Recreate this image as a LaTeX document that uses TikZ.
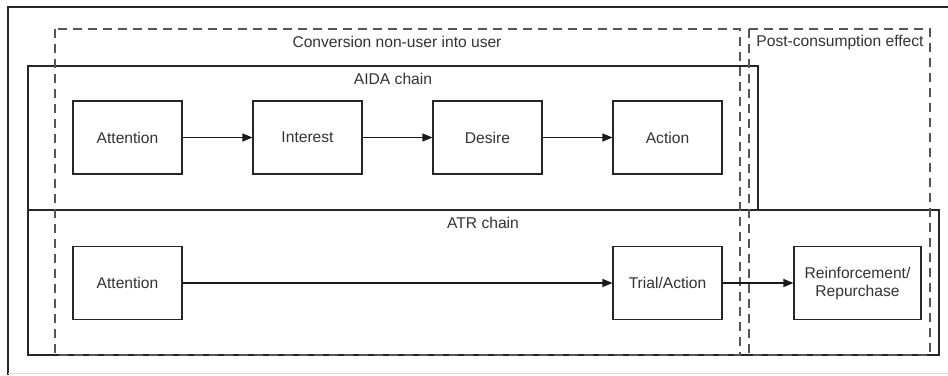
\documentclass[tikz,border=0pt]{standalone}
\usepackage{fontspec}
\setmainfont{Liberation Sans}
\usetikzlibrary{arrows.meta}
\definecolor{txt}{HTML}{333333}
\definecolor{dsh}{HTML}{555555}
\begin{document}
\begin{tikzpicture}[x=1pt,y=-1pt,
  box/.style={draw=black!85,line width=1.1pt,fill=white,minimum width=109pt,minimum height=73pt,inner sep=0pt,align=center,
    font=\fontsize{15.6}{18}\selectfont,text=txt},
  lbl/.style={font=\fontsize{15.6}{18}\selectfont,text=txt,inner sep=0pt},
  cont/.style={draw=black!85,line width=1.1pt},
  dcont/.style={draw=dsh,line width=1.5pt,dash pattern=on 9pt off 6pt},
  arr/.style={draw=black!90,line width=1.1pt,-{Triangle[length=10pt,width=8pt]}}]
\useasboundingbox (0,0) rectangle (948,375);
\fill[white] (0,0) rectangle (948,375);
% outer frame
\draw[black!85,line width=1.1pt] (8,375) -- (8,7) -- (948,7);
\draw[black!15,line width=1pt] (8,373) -- (948,373);
% chains
\draw[cont] (28,66) rectangle (758,210);
\draw[cont] (28,210) rectangle (939,355);
% dashed phases
\draw[dcont] (55,29) rectangle (740,355);
\draw[dcont] (749,29) rectangle (930,355);
% labels
\node[lbl] (conv) at (397,42) {Conversion non-user into user};
\node[lbl] (post) at (840,42) {Post-consumption effect};
\node[lbl] (aida) at (393,79) {AIDA chain};
\node[lbl] (atr) at (483,223) {ATR chain};
% AIDA nodes
\node[box] (att1) at (127.5,137.5) {Attention};
\node[box] (int) at (307.5,137.5) {Interest};
\node[box] (des) at (487.5,137.5) {Desire};
\node[box] (act) at (667.5,137.5) {Action};
% ATR nodes
\node[box] (att2) at (127.5,283) {Attention};
\node[box] (tri) at (667.5,283) {Trial/Action};
\node[box,minimum width=127pt] (rei) at (857.5,283) {Reinforcement/\\Repurchase};
% arrows
\draw[arr] (att1) -- (int);
\draw[arr] (int) -- (des);
\draw[arr] (des) -- (act);
\draw[arr] (att2) -- (tri);
\draw[arr] (tri) -- (rei);
\end{tikzpicture}
\end{document}
